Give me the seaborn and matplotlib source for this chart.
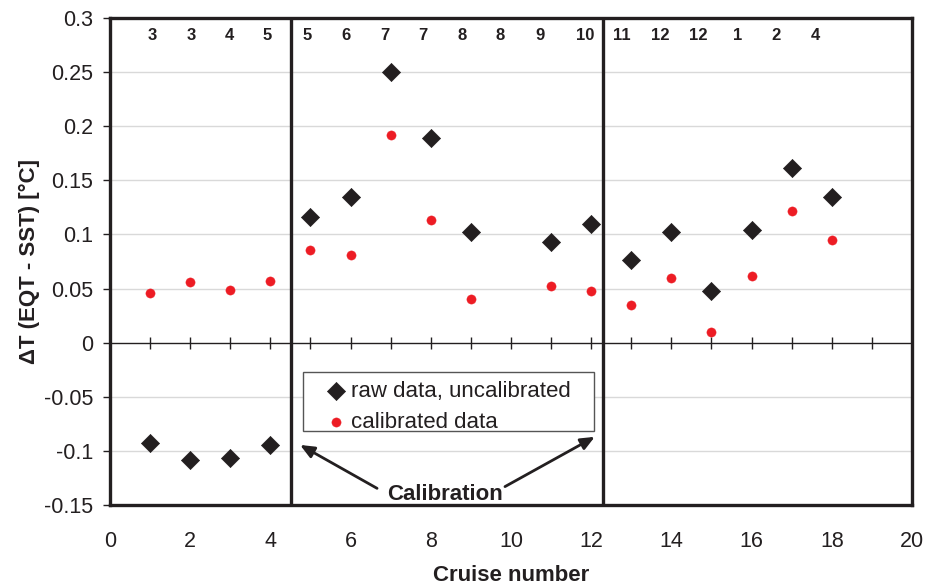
import matplotlib
matplotlib.use("Agg")
import matplotlib.pyplot as plt
from matplotlib.patches import Rectangle
import seaborn as sns
import pandas as pd

# Cruise numbers and temperature offsets (EQT - SST)
cruise = [1, 2, 3, 4, 5, 6, 7, 8, 9, 11, 12, 13, 14, 15, 16, 17, 18]
raw_dt = [-0.093, -0.108, -0.107, -0.095, 0.116, 0.135, 0.250, 0.189, 0.102,
          0.093, 0.110, 0.076, 0.102, 0.048, 0.104, 0.161, 0.135]
cal_dt = [0.046, 0.056, 0.049, 0.057, 0.086, 0.081, 0.192, 0.113, 0.040,
          0.052, 0.048, 0.035, 0.060, 0.010, 0.062, 0.122, 0.095]

# Month of each cruise, printed along the top
month_labels = ["3", "3", "4", "5", "5", "6", "7", "7", "8", "8",
                "9", "10", "11", "12", "12", "1", "2", "4"]
month_x = [1.06, 2.02, 2.97, 3.93, 4.92, 5.88, 6.86, 7.81, 8.77, 9.73,
           10.72, 11.85, 12.76, 13.72, 14.67, 15.66, 16.61, 17.58]

# Calibration events separating the cruise blocks
calibration_x = [4.52, 12.29]

sns.set_theme(style="white")
plt.rcParams["font.family"] = ["Liberation Sans", "DejaVu Sans"]
plt.rcParams["axes.unicode_minus"] = False

ink = "#231f20"
red = "#ed1c24"

df_raw = pd.DataFrame({"cruise": cruise, "dt": raw_dt})
df_cal = pd.DataFrame({"cruise": cruise, "dt": cal_dt})

fig = plt.figure(figsize=(9.28, 5.87), dpi=100)
ax = fig.add_axes([110 / 928, 1 - 505 / 587, 802 / 928, 487 / 587])

# light horizontal grid
for yv in [-0.1, -0.05, 0.05, 0.1, 0.15, 0.2, 0.25]:
    ax.axhline(yv, color="#d9d9d9", lw=1.0, zorder=0)

# zero line with tick marks at every cruise number
ax.axhline(0, color=ink, lw=1.0, zorder=1)
ax.plot(range(1, 20), [0] * 19, ls="none", marker="|", ms=9, mew=1.0,
        color=ink, zorder=1)

for xv in calibration_x:
    ax.axvline(xv, color=ink, lw=2.4, zorder=2)

sns.scatterplot(data=df_raw, x="cruise", y="dt", marker="D", s=85,
                color=ink, edgecolor=ink, linewidth=0.5, ax=ax,
                label="raw data, uncalibrated", zorder=4)
sns.scatterplot(data=df_cal, x="cruise", y="dt", marker="o", s=44,
                color=red, edgecolor=red, linewidth=0.3, ax=ax,
                label="calibrated data", zorder=5)

for lab, xv in zip(month_labels, month_x):
    ax.text(xv, 0.284, lab, ha="center", va="center", fontsize=12,
            fontweight="bold", color=ink)

ax.set_xlim(0, 20)
ax.set_ylim(-0.15, 0.3)
ax.set_xticks(range(0, 21, 2))
ax.set_yticks([-0.15, -0.1, -0.05, 0, 0.05, 0.1, 0.15, 0.2, 0.25, 0.3])
ax.set_yticklabels(["-0.15", "-0.1", "-0.05", "0", "0.05", "0.1", "0.15",
                    "0.2", "0.25", "0.3"])
ax.tick_params(axis="x", length=0, pad=19, labelsize=15.5, labelcolor=ink)
ax.tick_params(axis="y", left=True, length=5, width=1.0, color=ink, pad=7,
               labelsize=15.5, labelcolor=ink)

ax.set_xlabel("Cruise number", fontsize=16, fontweight="bold", color=ink,
              labelpad=9)
ax.set_ylabel("\u0394T (EQT - SST) [°C]", fontsize=16, fontweight="bold",
              color=ink, labelpad=3)

for sp in ax.spines.values():
    sp.set_visible(True)
    sp.set_color(ink)
    sp.set_linewidth(2.4)

# legend entries with a separately drawn box around them
leg = ax.legend(loc="upper left", bbox_to_anchor=(0.2618, 0.2546),
                borderaxespad=0, borderpad=0, fontsize=16, frameon=False,
                handletextpad=0.0, handlelength=1.4, labelspacing=0.45)
for t in leg.get_texts():
    t.set_color(ink)
ax.add_patch(Rectangle((0.2406, 0.152), 0.3629, 0.121, transform=ax.transAxes,
                       fill=True, facecolor="white", edgecolor="#555555",
                       lw=1.0, zorder=3))

ax.text(8.35, -0.1405, "Calibration", ha="center", va="center", fontsize=16,
        fontweight="bold", color=ink, zorder=6)
arrow = dict(arrowstyle="-|>,head_length=0.7,head_width=0.3", color=ink,
             lw=2.0, shrinkA=0, shrinkB=0)
ax.annotate("", xy=(4.74, -0.0945), xytext=(6.66, -0.1346), arrowprops=arrow)
ax.annotate("", xy=(12.09, -0.087), xytext=(9.85, -0.133), arrowprops=arrow)

fig.savefig("out.png", dpi=100)
